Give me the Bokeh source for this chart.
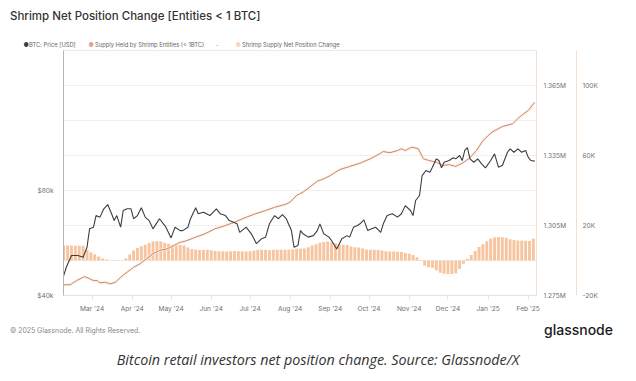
import datetime as dt
import html
import pandas as pd
from bokeh.plotting import figure
from bokeh.layouts import column
from bokeh.models import (Range1d, LinearAxis, LogAxis, LogScale, FixedTicker,
                          CustomJSTickFormatter, NumeralTickFormatter,
                          DatetimeTickFormatter, Div)
from bokeh.embed import file_html
from bokeh.resources import INLINE

# ---------------- data ----------------
price_dates = ["2024-02-08", "2024-02-10", "2024-02-14", "2024-02-19", "2024-02-23", "2024-02-26",
               "2024-02-28", "2024-03-02", "2024-03-04", "2024-03-07", "2024-03-10", "2024-03-13",
               "2024-03-16", "2024-03-18", "2024-03-20", "2024-03-23", "2024-03-25", "2024-03-28",
               "2024-03-31", "2024-04-02", "2024-04-05", "2024-04-08", "2024-04-11", "2024-04-14",
               "2024-04-17", "2024-04-22", "2024-04-27", "2024-05-01", "2024-05-04", "2024-05-08",
               "2024-05-10", "2024-05-14", "2024-05-16", "2024-05-20", "2024-05-22", "2024-05-26",
               "2024-05-31", "2024-06-05", "2024-06-08", "2024-06-12", "2024-06-15", "2024-06-21",
               "2024-06-23", "2024-06-28", "2024-07-02", "2024-07-06", "2024-07-10", "2024-07-13",
               "2024-07-16", "2024-07-20", "2024-07-23", "2024-07-26", "2024-07-29", "2024-08-02",
               "2024-08-04", "2024-08-07", "2024-08-09", "2024-08-11", "2024-08-15", "2024-08-19",
               "2024-08-22", "2024-08-24", "2024-08-27", "2024-08-31", "2024-09-02", "2024-09-06",
               "2024-09-10", "2024-09-14", "2024-09-16", "2024-09-19", "2024-09-22", "2024-09-24",
               "2024-09-27", "2024-09-30", "2024-10-03", "2024-10-06", "2024-10-10", "2024-10-12",
               "2024-10-15", "2024-10-19", "2024-10-23", "2024-10-26", "2024-10-29", "2024-11-02",
               "2024-11-04", "2024-11-06", "2024-11-09", "2024-11-11", "2024-11-14", "2024-11-17",
               "2024-11-19", "2024-11-22", "2024-11-24", "2024-11-26", "2024-11-28", "2024-12-02",
               "2024-12-05", "2024-12-07", "2024-12-10", "2024-12-12", "2024-12-14", "2024-12-16",
               "2024-12-18", "2024-12-21", "2024-12-24", "2024-12-27", "2024-12-30", "2025-01-03",
               "2025-01-06", "2025-01-09", "2025-01-12", "2025-01-16", "2025-01-18", "2025-01-21",
               "2025-01-24", "2025-01-27", "2025-01-30", "2025-02-01", "2025-02-03", "2025-02-06"]
price_usd = [45600, 48200, 52100, 52100, 51500, 55000,
             62100, 62800, 67800, 67100, 70900, 72900,
             68600, 65600, 67800, 62800, 70100, 70900,
             70900, 66400, 67800, 71400, 67100, 65600,
             62100, 66400, 62800, 58500, 62800, 61400,
             61400, 62800, 66400, 71400, 68600, 69300,
             67800, 70900, 68600, 67800, 65600, 64200,
             60700, 62800, 60100, 56300, 58200, 58800,
             64200, 67800, 66400, 68200, 66400, 61400,
             55000, 55600, 61400, 60100, 58800, 59400,
             61400, 64200, 60100, 58800, 57500, 54400,
             58200, 59400, 58800, 62800, 63500, 64200,
             65900, 61400, 62100, 62800, 60700, 64200,
             67800, 68600, 67100, 68600, 72400, 70100,
             67800, 74900, 77400, 88300, 91300, 90300,
             93300, 98600, 97500, 92900, 96400, 97500,
             99300, 98600, 100800, 97500, 104200, 106100,
             98600, 96400, 98600, 95400, 92900, 97500,
             101900, 93300, 94400, 103000, 105300, 103000,
             105300, 103000, 104200, 99700, 97500, 97100]

supply_dates = ["2024-02-08", "2024-02-13", "2024-02-18", "2024-02-24", "2024-02-28", "2024-03-02",
                "2024-03-05", "2024-03-07", "2024-03-11", "2024-03-15", "2024-03-19", "2024-03-23",
                "2024-03-28", "2024-04-02", "2024-04-07", "2024-04-12", "2024-04-17", "2024-04-22",
                "2024-04-28", "2024-05-03", "2024-05-08", "2024-05-12", "2024-05-20", "2024-05-27",
                "2024-06-04", "2024-06-12", "2024-06-19", "2024-06-27", "2024-07-05", "2024-07-13",
                "2024-07-20", "2024-07-28", "2024-08-01", "2024-08-06", "2024-08-11", "2024-08-16",
                "2024-08-22", "2024-08-27", "2024-09-01", "2024-09-08", "2024-09-16", "2024-09-24",
                "2024-10-02", "2024-10-10", "2024-10-12", "2024-10-17", "2024-10-23", "2024-10-26",
                "2024-10-29", "2024-11-03", "2024-11-08", "2024-11-12", "2024-11-16", "2024-11-22",
                "2024-11-27", "2024-12-02", "2024-12-07", "2024-12-12", "2024-12-17", "2024-12-23",
                "2024-12-28", "2025-01-04", "2025-01-12", "2025-01-20", "2025-01-25", "2025-02-01",
                "2025-02-06"]
supply_btc = [1279600, 1279600, 1281400, 1283100, 1282200, 1281400,
              1281400, 1280400, 1280700, 1280000, 1280700, 1282800,
              1285000, 1287100, 1288600, 1290700, 1292900, 1294300,
              1295000, 1296400, 1297800, 1298300, 1300000, 1301400,
              1303600, 1305000, 1306400, 1308300, 1310000, 1311400,
              1312800, 1314000, 1315000, 1317900, 1319300, 1321400,
              1324000, 1325000, 1326400, 1328900, 1330300, 1331700,
              1333600, 1336000, 1336700, 1336200, 1337100, 1337900,
              1337100, 1338600, 1337900, 1333600, 1332900, 1332100,
              1330700, 1331100, 1330300, 1331700, 1333600, 1337100,
              1341400, 1345000, 1347400, 1348600, 1351400, 1354300,
              1357800]

net_first_date = "2024-02-08"
net_step_days = 3
net_change = [8600, 8600, 8600, 8500, 8500, 8400, 6000, 4700, 3600, 2300,
              1200, 600, 200, 100, 100, 200, 1200, 3500, 5700, 7200,
              8200, 9000, 10000, 10800, 11000, 10800, 10200, 9600, 9000, 8900,
              8800, 8600, 7500, 6600, 6100, 6000, 6100, 6200, 5900, 5400,
              5300, 5300, 5200, 5300, 5400, 5300, 5300, 5200, 5300, 5700,
              6100, 6200, 6100, 6000, 6100, 6100, 6200, 6100, 6200, 6500,
              6700, 6700, 6800, 7600, 8600, 9300, 10200, 10600, 10800, 10500,
              9800, 9300, 9000, 8800, 8000, 7600, 7400, 6800, 6300, 6200,
              6200, 6000, 5700, 5300, 5100, 5100, 5000, 4900, 4300, 3800,
              3200, 1900, -300, -3000, -3800, -4200, -5500, -7000, -7500, -7700,
              -7700, -7300, -4800, -1800, 1000, 3200, 5500, 7700, 9300, 11000,
              12600, 13300, 13400, 13300, 13000, 12200, 11700, 11500, 11400, 11300,
              11200, 12500]

month_ticks = ["2024-03-01", "2024-04-01", "2024-05-01", "2024-06-01", "2024-07-01", "2024-08-01",
               "2024-09-01", "2024-10-01", "2024-11-01", "2024-12-01", "2025-01-01", "2025-02-01"]
price_ticks = [40000, 80000]
supply_ticks = [1275000, 1305000, 1335000, 1365000]
supply_grid = [1290000, 1305000, 1320000, 1335000, 1350000, 1365000]
net_ticks = [-20000, 20000, 60000, 100000]

title_text = "Shrimp Net Position Change [Entities < 1 BTC]"
legend_price = "BTC: Price [USD]"
legend_supply = "Supply Held by Shrimp Entities (< 1BTC)"
legend_net = "Shrimp Supply Net Position Change"
copyright_text = "\u00a9 2025 Glassnode. All Rights Reserved."
brand_text = "glassnode"
caption_text = "Bitcoin retail investors net position change. Source: Glassnode/X"

# ---------------- styling ----------------
PRICE_C = "#3d3d3d"
SUPPLY_C = "#c98868"
BAR_C = "#f5c29b"
TICK_C = "#707070"
FONT = "Inter"
W = 636
TOP_H, CH_H = 49, 271
BOT_H = 381 - TOP_H - CH_H

pd_price = pd.to_datetime(price_dates)
pd_supply = pd.to_datetime(supply_dates)
pd_net = pd.date_range(net_first_date, periods=len(net_change), freq=f"{net_step_days}D")


def span(txt, left, center_y, size, color, font=FONT, style="normal", weight=400,
         align="left", lh=None):
    lh = lh or round(size * 1.4)
    top = center_y - lh / 2
    if align == "left":
        pos = f"left:{left}px;"
    elif align == "right":
        pos = f"right:{W - left}px;text-align:right;"
    else:
        pos = f"left:0;width:{2 * left}px;text-align:center;"
    return (f'<span style="position:absolute;{pos}top:{top}px;line-height:{lh}px;'
            f"font-family:'{font}';font-size:{size}px;font-style:{style};font-weight:{weight};"
            f'color:{color};white-space:nowrap;">{html.escape(txt)}</span>')


def panel(h, spans):
    return Div(width=W, height=h, margin=0,
               text=f'<div style="position:relative;width:{W}px;height:{h}px;">' + "".join(spans) + "</div>")


top = panel(TOP_H, [
    span(title_text, 10, 16, 11.5, "#333333", weight=500),
    span("\u25cf", 23.5, 45, 5.8, PRICE_C),
    span(legend_price, 29, 45, 5.8, "#666666"),
    span("\u25cf", 88.5, 45, 5.8, "#e0a385"),
    span(legend_supply, 95, 45, 5.8, "#666666"),
    span("-", 216, 45, 5.8, "#999999"),
    span("\u25cf", 235.5, 45, 5.8, "#f5d6c2"),
    span(legend_net, 242, 45, 5.8, "#666666"),
])

# ---------------- chart ----------------
p = figure(width=W, height=CH_H, x_axis_type="datetime", output_backend="svg",
           toolbar_location=None,
           x_range=Range1d(dt.datetime(2024, 2, 7, 20), dt.datetime(2025, 2, 7, 10)),
           y_range=Range1d(1275000, 1380000), y_axis_location="right",
           min_border_left=63, min_border_right=100, min_border_top=1, min_border_bottom=25)
p.extra_y_ranges = {"price": Range1d(40000, 201600), "net": Range1d(-20000, 120000)}
p.extra_y_scales = {"price": LogScale()}
p.background_fill_color = "white"
p.border_fill_color = "white"
p.outline_line_color = "#ebebeb"

p.xgrid.visible = False
p.ygrid.ticker = FixedTicker(ticks=supply_grid)
p.ygrid.grid_line_color = "#efefef"

xa = p.xaxis[0]
xa.ticker = FixedTicker(ticks=[pd.Timestamp(t).value // 10**6 for t in month_ticks])
xa.formatter = DatetimeTickFormatter(days="%b '%y", months="%b '%y", years="%b '%y")
xa.axis_line_color = "#e4e4e4"
xa.major_tick_line_color = "#e4e4e4"
xa.major_tick_out = 4
xa.major_tick_in = 0
xa.minor_tick_line_color = None
xa.major_label_text_font = FONT
xa.major_label_text_font_size = "6.6px"
xa.major_label_text_color = TICK_C
xa.major_label_standoff = 5


def style_y(ax, standoff):
    ax.major_tick_line_color = None
    ax.minor_tick_line_color = None
    ax.major_label_text_font = FONT
    ax.major_label_text_font_size = "6.6px"
    ax.major_label_text_color = TICK_C
    ax.major_label_standoff = standoff
    ax.major_label_text_baseline = "bottom"


sa = p.yaxis[0]
sa.ticker = FixedTicker(ticks=supply_ticks)
sa.formatter = CustomJSTickFormatter(code="return (tick/1e6).toFixed(3) + 'M';")
sa.axis_line_color = "#f5dfd0"
style_y(sa, 1)
sa.axis_label = " "
sa.axis_label_standoff = 1
sa.axis_label_text_font_size = "3px"

na = LinearAxis(y_range_name="net", ticker=FixedTicker(ticks=net_ticks),
                formatter=CustomJSTickFormatter(code="return (tick/1000) + 'K';"))
na.axis_line_color = "#f5dfd0"
style_y(na, 0)
p.add_layout(na, "right")

pa = LogAxis(y_range_name="price", ticker=FixedTicker(ticks=price_ticks),
             formatter=NumeralTickFormatter(format="$0a"))
pa.axis_line_color = "#b5b5b5"
style_y(pa, 4)
p.add_layout(pa, "left")

p.vbar(x=pd_net, top=net_change, bottom=0, width=net_step_days * 0.75 * 86400000,
       y_range_name="net", fill_color=BAR_C, line_color=None, fill_alpha=0.95)
p.line(pd_supply, supply_btc, line_color="#fcebe2", line_width=3, line_alpha=0.7)
p.line(pd_supply, supply_btc, line_color=SUPPLY_C, line_width=1)
p.line(pd_price, price_usd, y_range_name="price", line_color=PRICE_C, line_width=1.1)

# ---------------- footer ----------------
Y0 = TOP_H + CH_H
bot = panel(BOT_H, [
    span(copyright_text, 10, 331 - Y0, 6.9, "#888888"),
    span(brand_text, 613, 330 - Y0, 14, "#1a1a1a", weight=500, align="right"),
    span(caption_text, 318, 360 - Y0, 14.3, "#333333", font="Open Sans", style="italic",
         align="center"),
])

layout = column(top, p, bot, spacing=0)
open("out.html", "w").write(file_html(layout, INLINE))
